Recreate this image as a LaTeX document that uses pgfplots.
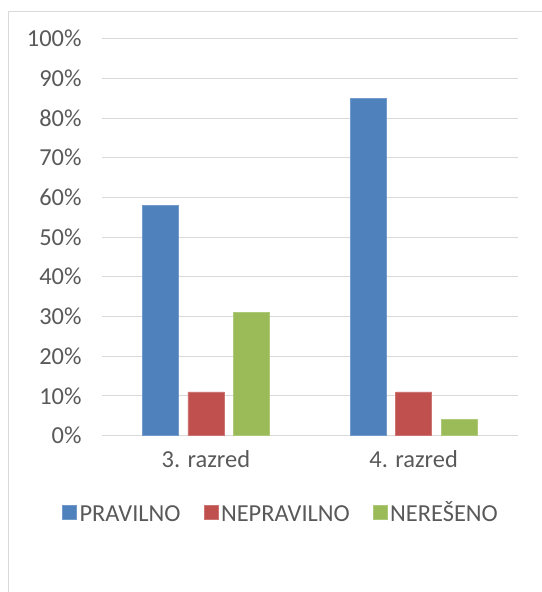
\documentclass[border=0pt]{standalone}
\usepackage{fontspec}
\setmainfont{Carlito}
\usepackage{pgfplots}
\pgfplotsset{compat=1.18}
\definecolor{cblue}{RGB}{79,129,189}
\definecolor{cred}{RGB}{192,80,77}
\definecolor{cgreen}{RGB}{155,187,89}
\definecolor{gridc}{RGB}{217,217,217}
\definecolor{txt}{RGB}{89,89,89}

\begin{document}
\begin{tikzpicture}[x=1bp,y=1bp]
\path[use as bounding box] (0,0) rectangle (542,592);
\draw[gridc,line width=1bp] (8.6,-2) -- (8.6,580) -- (545,580);
\begin{axis}[
    at={(102bp,156.5bp)}, anchor=south west,
    scale only axis,
    width=415.5bp, height=396.8bp,
    ybar=9.5bp, bar width=36bp,
    xmin=-0.5, xmax=1.5,
    ymin=0, ymax=100,
    xtick={0,1}, xticklabels={3. razred,4. razred},
    ytick={0,10,...,100},
    yticklabel={\pgfmathprintnumber{\tick}\%},
    /pgf/number format/assume math mode=true,
    axis line style={draw=none},
    major tick length=0pt,
    ymajorgrids, grid style={gridc,line width=1bp},
    tick label style={font=\fontsize{24.5}{28}\selectfont, text=txt},
    yticklabel style={xshift=-17bp},
    xticklabel style={yshift=-12bp},
    legend columns=3,
    legend style={draw=none, fill=none, at={(0.432,-0.2)}, anchor=center,
        font=\fontsize{24.5}{28}\selectfont, text=txt,
        nodes={text height=0.65em, text depth=0.15em, inner xsep=3bp},
        /tikz/every even column/.append style={column sep=20bp},
        inner sep=0pt},
    legend image code/.code={\fill[#1] (0bp,0.5bp) rectangle (14bp,14.5bp);},
]
\addplot[fill=cblue, draw=cblue!80!white] coordinates {(0,58) (1,85)};
\addplot[fill=cred, draw=cred!80!white] coordinates {(0,11) (1,11)};
\addplot[fill=cgreen, draw=cgreen!80!white] coordinates {(0,31) (1,4)};
\legend{PRAVILNO,NEPRAVILNO,NEREŠENO}
\end{axis}
\end{tikzpicture}
\end{document}
